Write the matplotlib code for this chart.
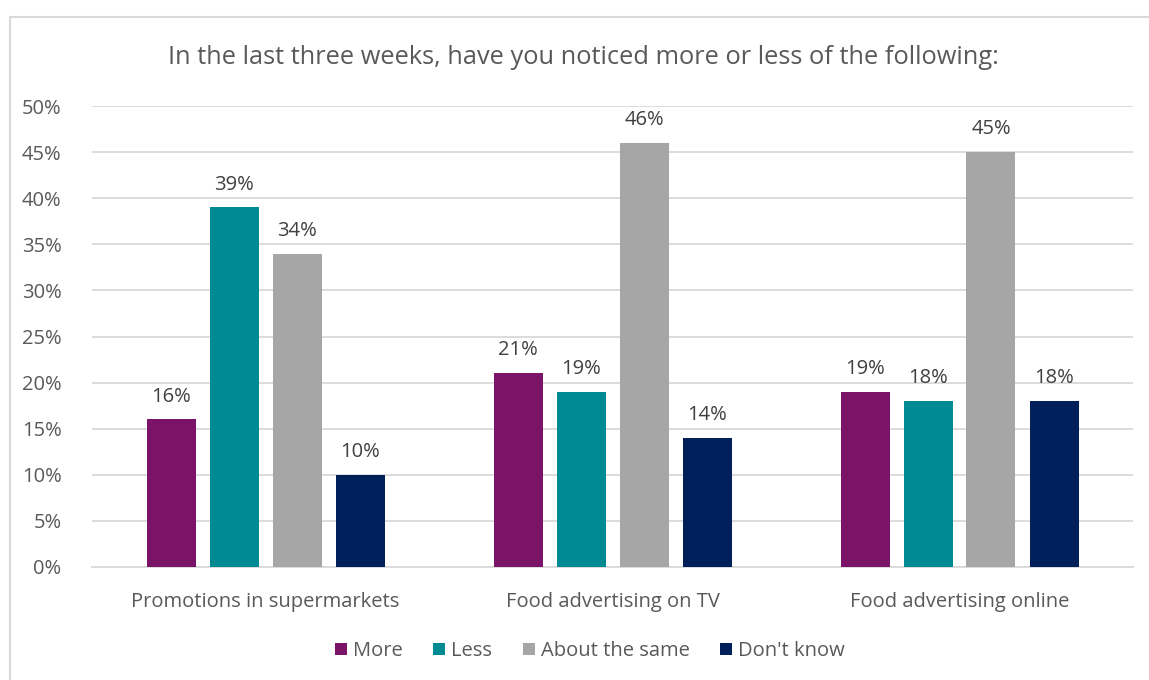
import matplotlib; matplotlib.use("Agg")
import matplotlib.pyplot as plt
import numpy as np
from matplotlib.patches import Rectangle

categories = ["Promotions in supermarkets", "Food advertising on TV", "Food advertising online"]
series = ["More", "Less", "About the same", "Don't know"]
more = [16, 21, 19]
less = [39, 19, 18]
same = [34, 46, 45]
dont_know = [10, 14, 18]
colors = ["#7B1468", "#008B94", "#A6A6A6", "#00205C"]

plt.rcParams["font.family"] = ["Open Sans", "DejaVu Sans"]
TXT = "#595959"
FS = 14.5

W, H = 1149, 680
fig = plt.figure(figsize=(W / 100, H / 100), dpi=100)
# outer chart border (right/bottom run off the picture)
fig.patches.append(Rectangle((10 / W, -0.2), 1.2, 1.2 - 17 / H, transform=fig.transFigure,
                             fill=False, edgecolor="#D9D9D9", lw=1.5))
ax = fig.add_axes([92 / W, (H - 567) / H, (1133 - 92) / W, (567 - 106) / H])

x = np.arange(len(categories))
bw = 49 / 347
pitch = 63 / 347
for i, (vals, name) in enumerate(zip([more, less, same, dont_know], series)):
    pos = x + (i - 1.5) * pitch
    bars = ax.bar(pos, vals, bw, color=colors[i], label=name, zorder=3)
    for b, v in zip(bars, vals):
        ax.text(b.get_x() + b.get_width() / 2, v + 1.4, "%d%%" % v, ha="center", va="bottom",
                fontsize=FS, color="#404040")

ax.set_xlim(-0.5, 2.5)
ax.set_ylim(0, 50)
ax.set_yticks(range(0, 51, 5))
ax.set_yticklabels(["%d%%" % t for t in range(0, 51, 5)], fontsize=FS, color=TXT)
ax.set_xticks(x)
ax.set_xticklabels(categories, fontsize=FS, color=TXT)
ax.grid(axis="y", color="#D9D9D9", lw=1.3, zorder=0)
for s in ["top", "right", "left"]:
    ax.spines[s].set_visible(False)
ax.spines["bottom"].set_color("#D9D9D9")
ax.spines["bottom"].set_linewidth(1.3)
ax.tick_params(axis="both", length=0)
ax.tick_params(axis="y", pad=22)
ax.tick_params(axis="x", pad=18)

fig.text(583 / W, 1 - 58 / H, "In the last three weeks, have you noticed more or less of the following:",
         ha="center", va="center", fontsize=18.3, color=TXT)
leg = fig.legend(loc="center", bbox_to_anchor=(590 / W, 1 - 651 / H), ncol=4, frameon=False,
                 fontsize=FS, handlelength=0.6, handleheight=0.6, handletextpad=0.3, columnspacing=1.5)
for t in leg.get_texts():
    t.set_color(TXT)

fig.savefig("out.png", dpi=100)
